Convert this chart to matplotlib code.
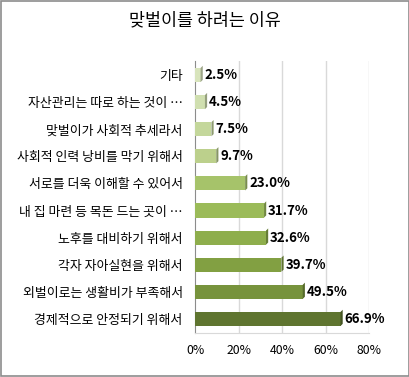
import matplotlib

matplotlib.use("Agg")
import matplotlib.pyplot as plt
import matplotlib.colors as mcolors
from matplotlib.patches import Polygon, Rectangle

plt.rcParams["font.family"] = ["Noto Sans CJK KR", "DejaVu Sans"]

title = "맞벌이를 하려는 이유"
categories = [
    "기타",
    "자산관리는 따로 하는 것이 …",
    "맞벌이가 사회적 추세라서",
    "사회적 인력 낭비를 막기 위해서",
    "서로를 더욱 이해할 수 있어서",
    "내 집 마련 등 목돈 드는 곳이 …",
    "노후를 대비하기 위해서",
    "각자 자아실현을 위해서",
    "외벌이로는 생활비가 부족해서",
    "경제적으로 안정되기 위해서",
]
values = [2.5, 4.5, 7.5, 9.7, 23.0, 31.7, 32.6, 39.7, 49.5, 66.9]
bar_colors = ["#d8e4bc", "#d0dfb0", "#c4d79b", "#bcd08c", "#a6c36a",
              "#9bbb59", "#8eae4c", "#82a042", "#77933c", "#5f7530"]
xticks = [0, 20, 40, 60, 80]


def darker(c, f=0.72):
    r, g, b = mcolors.to_rgb(c)
    return (r * f, g * f, b * f)


fig = plt.figure(figsize=(4.10, 3.77), dpi=100)
fig.patches.append(Rectangle((0.003, 0.003), 0.994, 0.994, transform=fig.transFigure,
                             fill=False, edgecolor="#8c8c8c", lw=1.2))
fig.text(0.5, 0.945, title, ha="center", va="center", fontsize=12.5)

ax = fig.add_axes([0.476, 0.118, 0.424, 0.719])
n = len(values)
ys = [n - 1 - i for i in range(n)]
h = 0.52
cap = 1.0  # depth of 3D side face in data units
for y, v, c in zip(ys, values, bar_colors):
    ax.barh(y, v, height=h, color=c, edgecolor="none", zorder=3)
    # darker right-hand face for a 3D look
    side = Polygon([(v, y - h / 2), (v + cap, y - h / 2 + 0.08),
                    (v + cap, y + h / 2 + 0.08), (v, y + h / 2)],
                   closed=True, facecolor=darker(c), edgecolor="none", zorder=3)
    ax.add_patch(side)
    ax.text(v + cap + 0.8, y, f"{v:.1f}%", va="center", ha="left",
            fontsize=9.6, fontweight="bold", zorder=4)

ax.set_xlim(0, 80)
ax.set_ylim(-0.5, n - 0.5)
ax.set_yticks(ys)
ax.set_yticklabels(categories, fontsize=9.3)
ax.set_xticks(xticks)
ax.set_xticklabels([f"{t}%" for t in xticks], fontsize=8.8)
ax.tick_params(axis="both", length=0)
ax.tick_params(axis="x", pad=8)
ax.tick_params(axis="y", pad=9)
for t in xticks[1:]:
    ax.axvline(t, color="#d9d9d9", lw=1, zorder=1)
for s in ["top", "right"]:
    ax.spines[s].set_visible(False)
ax.spines["left"].set_color("#8c8c8c")
ax.spines["bottom"].set_color("#d9d9d9")

fig.savefig("out.png", dpi=100)
